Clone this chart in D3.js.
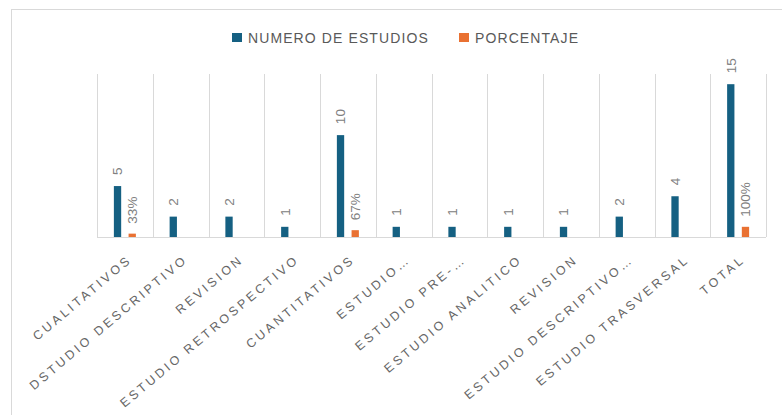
<!DOCTYPE html>
<html>
<head>
<meta charset="utf-8">
<script src="https://cdn.jsdelivr.net/npm/d3@7"></script>
<style>
  body { margin: 0; background: #fff; }
  svg { display: block; }
</style>
</head>
<body>
<div id="chart"></div>
<script>
const categories = [
  "CUALITATIVOS", "DSTUDIO DESCRIPTIVO", "REVISION", "ESTUDIO RETROSPECTIVO",
  "CUANTITATIVOS", "ESTUDIO…", "ESTUDIO PRE-…", "ESTUDIO ANALITICO",
  "REVISION", "ESTUDIO DESCRIPTIVO…", "ESTUDIO TRASVERSAL", "TOTAL"
];
const numeroEstudios = [5, 2, 2, 1, 10, 1, 1, 1, 1, 2, 4, 15];
const porcentaje = [0.33, null, null, null, 0.67, null, null, null, null, null, null, 1.0];
const seriesNames = ["NUMERO DE ESTUDIOS", "PORCENTAJE"];
const colors = ["#156082", "#E97132"];

const W = 782, H = 415;
const plot = { left: 97, right: 766, top: 74, bottom: 237 };

const svg = d3.select("#chart").append("svg")
  .attr("width", W)
  .attr("height", H);

// chart frame (runs past the window edges)
svg.append("rect")
  .attr("x", 11.5).attr("y", 9.5)
  .attr("width", 900).attr("height", 500)
  .attr("fill", "none")
  .attr("stroke", "#d9d9d9");

const x = d3.scaleBand()
  .domain(d3.range(categories.length))
  .range([plot.left, plot.right])
  .padding(0);

const y = d3.scaleLinear()
  .domain([0, 16])
  .range([plot.bottom, plot.top]);

// vertical separators between categories
const bounds = d3.range(categories.length + 1).map(i => plot.left + i * x.bandwidth());
svg.selectAll("line.sep")
  .data(bounds)
  .enter()
  .append("line")
  .attr("class", "sep")
  .attr("x1", d => Math.round(d) + 0.5)
  .attr("x2", d => Math.round(d) + 0.5)
  .attr("y1", plot.top)
  .attr("y2", plot.bottom)
  .attr("stroke", "#d9d9d9");

// baseline
svg.append("line")
  .attr("x1", plot.left).attr("x2", plot.right)
  .attr("y1", plot.bottom + 0.5).attr("y2", plot.bottom + 0.5)
  .attr("stroke", "#d9d9d9");

const BAR_W = 7.3;
const center = i => x(i) + x.bandwidth() / 2;

// blue bars
svg.selectAll("rect.num")
  .data(numeroEstudios)
  .enter()
  .append("rect")
  .attr("class", "num")
  .attr("x", (d, i) => center(i) - 11)
  .attr("y", d => y(d))
  .attr("width", BAR_W)
  .attr("height", d => y(0) - y(d))
  .attr("fill", colors[0]);

// orange bars
const pctData = porcentaje.map((v, i) => ({ v, i })).filter(d => d.v !== null);
svg.selectAll("rect.pct")
  .data(pctData)
  .enter()
  .append("rect")
  .attr("class", "pct")
  .attr("x", d => center(d.i) + 3.7)
  .attr("y", d => y(d.v))
  .attr("width", BAR_W)
  .attr("height", d => y(0) - y(d.v))
  .attr("fill", colors[1]);

// data labels, rotated
svg.selectAll("text.numlbl")
  .data(numeroEstudios)
  .enter()
  .append("text")
  .attr("class", "numlbl")
  .attr("transform", (d, i) => `translate(${center(i) - 11 + BAR_W / 2},${y(d) - 11}) rotate(-90)`)
  .attr("dy", "0.35em")
  .attr("text-anchor", "start")
  .attr("font-family", "Liberation Sans, Arial, sans-serif")
  .attr("font-size", "13.5px")
  .attr("fill", "#808080")
  .text(d => d);

svg.selectAll("text.pctlbl")
  .data(pctData)
  .enter()
  .append("text")
  .attr("class", "pctlbl")
  .attr("transform", d => `translate(${center(d.i) + 3.7 + BAR_W / 2},${y(d.v) - 10}) rotate(-90)`)
  .attr("dy", "0.35em")
  .attr("text-anchor", "start")
  .attr("font-family", "Liberation Sans, Arial, sans-serif")
  .attr("font-size", "13.5px")
  .attr("fill", "#808080")
  .text(d => d3.format(".0%")(d.v));

// category labels
const LS = 3;
svg.selectAll("text.cat")
  .data(categories)
  .enter()
  .append("text")
  .attr("class", "cat")
  .attr("transform", (d, i) => `translate(${center(i) - 1 + LS},254) rotate(-40)`)
  .attr("dy", "0.72em")
  .attr("text-anchor", "end")
  .attr("font-family", "Liberation Sans, Arial, sans-serif")
  .attr("font-size", "12.5px")
  .attr("letter-spacing", LS + "px")
  .attr("fill", "#666")
  .text(d => d);

// legend
const legend = svg.append("g");
const legendX = [232, 459];
seriesNames.forEach((name, k) => {
  legend.append("rect")
    .attr("x", legendX[k]).attr("y", 33)
    .attr("width", 10).attr("height", 9)
    .attr("fill", colors[k]);
  legend.append("text")
    .attr("x", legendX[k] + 16)
    .attr("y", 43)
    .attr("font-family", "Liberation Sans, Arial, sans-serif")
    .attr("font-size", "14px")
    .attr("letter-spacing", "1.1px")
    .attr("fill", "#595959")
    .text(name);
});
</script>
</body>
</html>
